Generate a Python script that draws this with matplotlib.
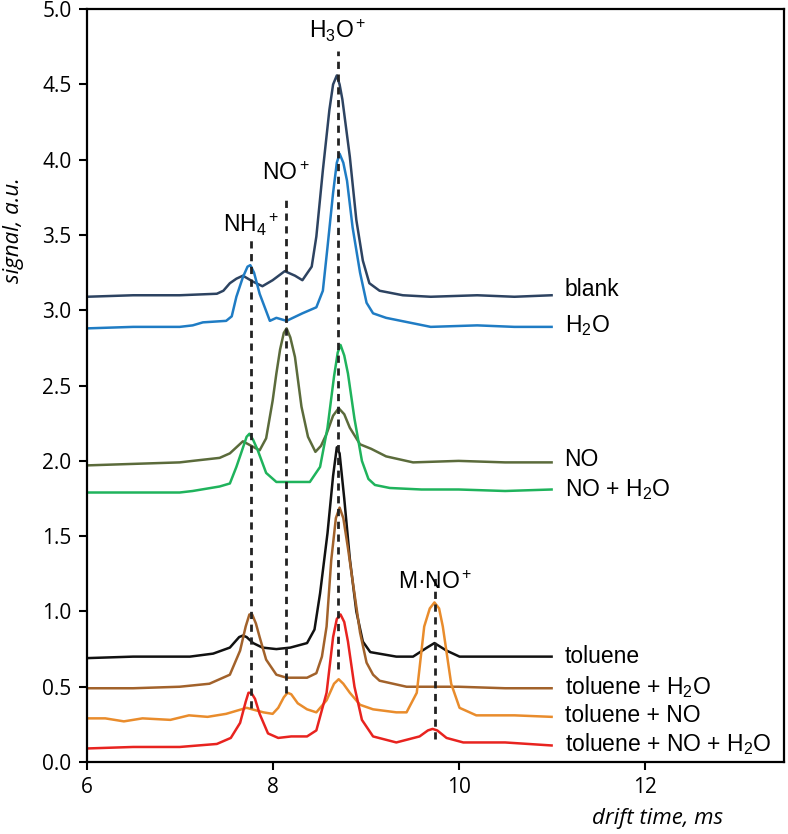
import matplotlib
matplotlib.use("Agg")
import matplotlib.pyplot as plt

# drift time (ms) / signal (a.u.), one pair of lists per spectrum
blank_x = [6.0, 6.5, 7.0, 7.4, 7.47, 7.54, 7.61, 7.68, 7.79, 7.89, 8.0, 8.13, 8.24, 8.32, 8.42, 8.47,
           8.54, 8.61, 8.65, 8.69, 8.72, 8.75, 8.83, 8.90, 8.97, 9.04, 9.15, 9.4, 9.7, 10.2, 10.6, 11.0]
blank_y = [3.09, 3.10, 3.10, 3.11, 3.13, 3.18, 3.21, 3.23, 3.19, 3.16, 3.20, 3.26, 3.23, 3.20, 3.29, 3.49,
           3.93, 4.33, 4.50, 4.56, 4.50, 4.40, 4.02, 3.60, 3.33, 3.18, 3.13, 3.10, 3.09, 3.10, 3.09, 3.10]

h2o_x = [6.0, 6.5, 7.0, 7.14, 7.25, 7.5, 7.56, 7.61, 7.68, 7.73, 7.76, 7.80, 7.86, 7.97, 8.04, 8.15,
         8.32, 8.47, 8.54, 8.59, 8.65, 8.69, 8.72, 8.76, 8.80, 8.86, 8.94, 9.01, 9.08, 9.22, 9.7,
         10.2, 10.6, 11.0]
h2o_y = [2.88, 2.89, 2.89, 2.90, 2.92, 2.93, 2.96, 3.09, 3.22, 3.29, 3.30, 3.25, 3.11, 2.93, 2.95, 2.93,
         2.98, 3.02, 3.13, 3.42, 3.78, 3.98, 4.04, 3.98, 3.86, 3.55, 3.25, 3.05, 2.98, 2.95, 2.89,
         2.90, 2.89, 2.89]

no_x = [6.0, 6.5, 7.0, 7.14, 7.43, 7.54, 7.61, 7.68, 7.77, 7.86, 7.93, 8.0, 8.04, 8.08, 8.12, 8.15,
        8.19, 8.24, 8.31, 8.38, 8.46, 8.52, 8.58, 8.65, 8.71, 8.77, 8.83, 8.94, 9.06, 9.22, 9.51,
        10.0, 10.5, 11.0]
no_y = [1.97, 1.98, 1.99, 2.00, 2.02, 2.05, 2.09, 2.13, 2.10, 2.07, 2.15, 2.40, 2.58, 2.74, 2.85, 2.88,
        2.82, 2.69, 2.36, 2.16, 2.06, 2.10, 2.18, 2.30, 2.35, 2.31, 2.22, 2.11, 2.08, 2.03, 1.99,
        2.00, 1.99, 1.99]

noh2o_x = [6.0, 6.5, 7.0, 7.14, 7.43, 7.54, 7.61, 7.66, 7.72, 7.75, 7.79, 7.84, 7.93, 8.04, 8.2,
           8.40, 8.51, 8.59, 8.66, 8.70, 8.73, 8.77, 8.81, 8.88, 8.96, 9.03, 9.1, 9.26, 9.6, 10.0,
           10.5, 11.0]
noh2o_y = [1.79, 1.79, 1.79, 1.80, 1.83, 1.85, 1.96, 2.05, 2.16, 2.18, 2.14, 2.07, 1.92, 1.86, 1.86,
           1.86, 1.96, 2.22, 2.56, 2.72, 2.77, 2.70, 2.58, 2.28, 2.00, 1.88, 1.84, 1.82, 1.81, 1.81,
           1.80, 1.81]

tol_x = [6.0, 6.5, 7.0, 7.11, 7.36, 7.54, 7.64, 7.68, 7.72, 7.79, 7.89, 8.04, 8.19, 8.37, 8.45, 8.51,
         8.59, 8.65, 8.69, 8.72, 8.77, 8.83, 8.90, 8.97, 9.05, 9.33, 9.51, 9.66, 9.74, 9.87, 10.01,
         10.5, 11.0]
tol_y = [0.69, 0.70, 0.70, 0.70, 0.72, 0.76, 0.83, 0.84, 0.83, 0.79, 0.76, 0.75, 0.76, 0.79, 0.88, 1.12,
         1.52, 1.90, 2.09, 2.05, 1.75, 1.35, 1.00, 0.80, 0.73, 0.70, 0.70, 0.76, 0.79, 0.74, 0.70,
         0.70, 0.70]

tolh2o_x = [6.0, 6.5, 7.0, 7.32, 7.54, 7.65, 7.71, 7.75, 7.78, 7.82, 7.86, 7.93, 8.04, 8.15, 8.37,
            8.47, 8.53, 8.58, 8.63, 8.68, 8.72, 8.76, 8.81, 8.87, 8.94, 9.01, 9.08, 9.15, 9.44, 10.0,
            10.5, 11.0]
tolh2o_y = [0.49, 0.49, 0.50, 0.52, 0.58, 0.74, 0.90, 0.98, 0.98, 0.92, 0.83, 0.68, 0.58, 0.56, 0.56,
            0.59, 0.70, 0.90, 1.34, 1.62, 1.69, 1.62, 1.42, 1.16, 0.86, 0.66, 0.58, 0.54, 0.50, 0.50,
            0.49, 0.49]

tolno_x = [6.0, 6.2, 6.4, 6.6, 6.9, 7.1, 7.3, 7.5, 7.72, 7.9, 8.0, 8.06, 8.12, 8.16, 8.20, 8.27, 8.37,
           8.47, 8.58, 8.66, 8.71, 8.76, 8.83, 8.94, 9.08, 9.33, 9.44, 9.55, 9.63, 9.69, 9.74, 9.79,
           9.83, 9.92, 10.01, 10.19, 10.6, 11.0]
tolno_y = [0.29, 0.29, 0.27, 0.29, 0.28, 0.31, 0.30, 0.32, 0.36, 0.33, 0.32, 0.36, 0.43, 0.46, 0.45,
           0.39, 0.35, 0.33, 0.41, 0.52, 0.55, 0.52, 0.46, 0.38, 0.35, 0.33, 0.33, 0.46, 0.90, 1.02,
           1.06, 1.02, 0.90, 0.52, 0.36, 0.31, 0.31, 0.30]

tolnoh2o_x = [6.0, 6.5, 7.0, 7.4, 7.55, 7.65, 7.71, 7.74, 7.77, 7.81, 7.86, 7.95, 8.06, 8.2, 8.37,
              8.47, 8.58, 8.65, 8.69, 8.73, 8.77, 8.81, 8.88, 8.96, 9.08, 9.33, 9.58, 9.67, 9.72,
              9.77, 9.87, 10.05, 10.5, 11.0]
tolnoh2o_y = [0.09, 0.10, 0.10, 0.12, 0.16, 0.26, 0.40, 0.46, 0.46, 0.42, 0.32, 0.19, 0.16, 0.17,
              0.17, 0.21, 0.46, 0.83, 0.95, 0.98, 0.93, 0.80, 0.50, 0.28, 0.17, 0.13, 0.17, 0.21,
              0.22, 0.21, 0.16, 0.13, 0.13, 0.11]

trace_labels = ["blank", "H$_2$O", "NO", "NO + H$_2$O",
                "toluene", "toluene + H$_2$O", "toluene + NO", "toluene + NO + H$_2$O"]
trace_label_y = [3.14, 2.90, 2.01, 1.81, 0.70, 0.50, 0.31, 0.12]
trace_colors = ["#2d4361", "#1f7cc4", "#5b6b3b", "#1fb35c",
                "#111111", "#a2622b", "#e98c2c", "#e8231f"]

# ion markers: label, drift time, top and bottom of the dashed line, label height
ion_labels = ["NH$_4$$^+$", "NO$^+$", "H$_3$O$^+$", "M\u00b7NO$^+$"]
ion_x = [7.77, 8.14, 8.70, 9.75]
ion_line_top = [3.48, 3.76, 4.72, 1.25]
ion_line_bottom = [0.36, 0.46, 0.62, 0.15]
ion_label_y = [3.57, 3.91, 4.86, 1.19]

plt.rcParams['mathtext.fontset'] = 'custom'
plt.rcParams['mathtext.rm'] = 'Liberation Sans'
plt.rcParams['mathtext.it'] = 'Liberation Sans:italic'

fig = plt.figure(figsize=(7.88, 8.34), dpi=100)
ax = fig.add_axes([0.110, 0.0863, 0.885, 0.9027])

xs = [blank_x, h2o_x, no_x, noh2o_x, tol_x, tolh2o_x, tolno_x, tolnoh2o_x]
ys = [blank_y, h2o_y, no_y, noh2o_y, tol_y, tolh2o_y, tolno_y, tolnoh2o_y]
for x, y, c in zip(xs, ys, trace_colors):
    ax.plot(x, y, color=c, lw=1.8, solid_joinstyle='round')

# dashed guide lines for the ion peaks
for i in range(len(ion_x)):
    ax.plot([ion_x[i], ion_x[i]], [ion_line_bottom[i], ion_line_top[i]], color='#222222',
            lw=2.0, dashes=(2.6, 2.0), zorder=3)
    ax.text(ion_x[i], ion_label_y[i], ion_labels[i], ha='center', va='center',
            fontsize=16.5, family='Liberation Sans')

for lab, yy in zip(trace_labels, trace_label_y):
    ax.text(11.14, yy, lab, ha='left', va='center', fontsize=16.5, family='Liberation Sans')

ax.set_xlim(6, 13.5)
ax.set_ylim(0, 5)
ax.set_xticks([6, 8, 10, 12])
ax.set_yticks([0, 0.5, 1, 1.5, 2, 2.5, 3, 3.5, 4, 4.5, 5])
ax.set_yticklabels([f"{v:.1f}" for v in ax.get_yticks()])
for s in ax.spines.values():
    s.set_linewidth(1.6)
ax.tick_params(direction='out', length=6, width=1.5, labelsize=15, pad=5)
for lab in ax.get_xticklabels() + ax.get_yticklabels():
    lab.set_family('Open Sans')

fig.text(0.0165, 0.724, "signal, a.u.", rotation=90, ha='center', va='center',
         fontsize=16, style='italic', family='Open Sans')
fig.text(0.834, 0.019, "drift time, ms", ha='center', va='center',
         fontsize=16, style='italic', family='Open Sans')

fig.savefig("out.png", dpi=100)
